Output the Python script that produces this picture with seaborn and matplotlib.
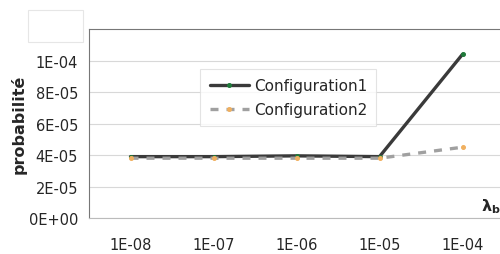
import matplotlib
matplotlib.use("Agg")
import matplotlib.pyplot as plt
import seaborn as sns
import pandas as pd
from matplotlib.patches import Rectangle

# data
lambdas = ["1E-08", "1E-07", "1E-06", "1E-05", "1E-04"]
config1 = [3.9e-05, 3.9e-05, 3.95e-05, 3.9e-05, 1.04e-04]
config2 = [3.8e-05, 3.8e-05, 3.8e-05, 3.8e-05, 4.5e-05]
yticks = [0, 2e-05, 4e-05, 6e-05, 8e-05, 1e-04]
ytick_labels = ["0E+00", "2E-05", "4E-05", "6E-05", "8E-05", "1E-04"]

df = pd.DataFrame({"lambda": lambdas * 2,
                   "prob": config1 + config2,
                   "config": ["Configuration1"] * 5 + ["Configuration2"] * 5})

sns.set_style("white")
plt.rcParams["font.family"] = ["DejaVu Sans"]

fig = plt.figure(figsize=(5, 2.55), dpi=100)
ax = fig.add_axes([0.178, 0.141, 0.83, 0.741])

sns.lineplot(data=df[df.config == "Configuration1"], x="lambda", y="prob", ax=ax,
             color="#3a3a3a", lw=2.4, marker="o", markersize=2.8,
             markerfacecolor="#1f7a3a", markeredgecolor="#1f7a3a",
             label="Configuration1", sort=False)
sns.lineplot(data=df[df.config == "Configuration2"], x="lambda", y="prob", ax=ax,
             color="#a0a0a0", lw=2.4, marker="o", markersize=2.8,
             markerfacecolor="#f0b060", markeredgecolor="#f0b060",
             label="Configuration2", sort=False)
ax.lines[1].set_dashes([2.4, 2.4])

ax.set_xlim(-0.5, 4.5)
ax.set_ylim(0, 1.2e-04)
ax.set_yticks(yticks)
ax.set_yticklabels(ytick_labels, fontsize=10.5)
ax.set_xticks(range(len(lambdas)))
ax.set_xticklabels(lambdas, fontsize=10.5)
ax.set_xticks([i - 0.5 for i in range(len(lambdas) + 1)], minor=True)
ax.tick_params(axis="x", which="major", length=0, pad=14)
ax.tick_params(axis="x", which="minor", length=4, direction="out", color="#bbbbbb")
ax.tick_params(axis="y", length=4, direction="out", color="#999999", pad=4)
ax.grid(axis="y", color="#d8d8d8", lw=0.8)
ax.set_axisbelow(True)
ax.set_xlabel("")
ax.set_ylabel("probabilité", fontsize=11.5, fontweight="bold", labelpad=1)

for side in ["left", "bottom", "top"]:
    ax.spines[side].set_visible(True)
    ax.spines[side].set_color("#777777")
ax.spines["right"].set_visible(False)
ax.spines["bottom"].set_color("#bbbbbb")

leg = ax.legend(loc="upper left", bbox_to_anchor=(0.25, 0.83), fontsize=11,
                frameon=True, fancybox=False, handlelength=2.6, borderpad=0.6,
                labelspacing=0.6, handletextpad=0.3)
leg.get_frame().set_edgecolor("#dddddd")
leg.get_frame().set_linewidth(0.8)

fig.text(0.962, 0.17, r"$\mathbf{\lambda_b}$", fontsize=11.5)
fig.add_artist(Rectangle((0.056, 0.83), 0.11, 0.125, transform=fig.transFigure,
                         fill=False, edgecolor="#e6e6e6", lw=0.8))

fig.savefig("out.png", dpi=100)
